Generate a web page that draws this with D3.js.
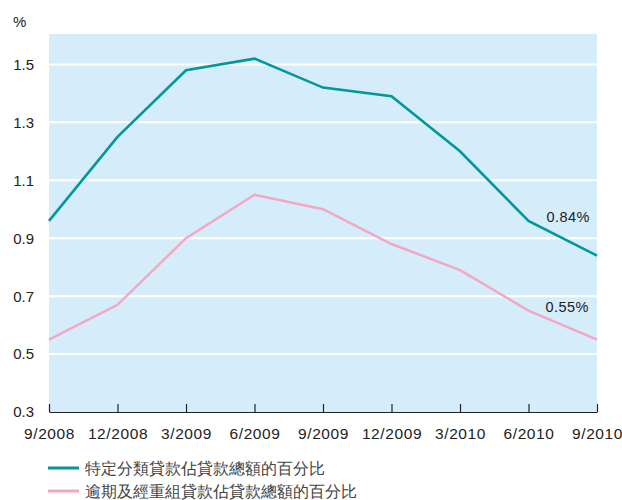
<!DOCTYPE html>
<html>
<head>
<meta charset="utf-8">
<script src="https://cdn.jsdelivr.net/npm/d3@7"></script>
<style>
  body { margin: 0; background: #fff; }
  text { font-family: "Liberation Sans", Arial, sans-serif; fill: #222; }
</style>
</head>
<body>
<div id="chart"></div>
<script>
// quarter-end dates
const categories = ["9/2008", "12/2008", "3/2009", "6/2009", "9/2009", "12/2009", "3/2010", "6/2010", "9/2010"]
// classified loans as % of total loans
const classified = [0.96, 1.25, 1.48, 1.52, 1.42, 1.39, 1.20, 0.96, 0.84]
// overdue and rescheduled loans as % of total loans
const overdue = [0.55, 0.67, 0.90, 1.05, 1.00, 0.88, 0.79, 0.65, 0.55]
const y_ticks = [0.3, 0.5, 0.7, 0.9, 1.1, 1.3, 1.5]
const series_names = ["特定分類貸款佔貸款總額的百分比", "逾期及經重組貸款佔貸款總額的百分比"]
const end_labels = ["0.84%", "0.55%"]

const width = 622, height = 500
const pad_left = 49, pad_right = 597, pad_top = 34, pad_bottom = 412

const svg = d3.select("#chart").append("svg")
  .attr("width", width)
  .attr("height", height)

const x = d3.scalePoint().domain(categories).range([pad_left, pad_right])
const y = d3.scaleLinear().domain([0.3, 1.605]).range([pad_bottom, pad_top])

// plot background
svg.append("rect")
  .attr("x", pad_left).attr("y", pad_top)
  .attr("width", pad_right - pad_left).attr("height", pad_bottom - pad_top)
  .attr("fill", "#d5edfa")

// white gridlines
svg.append("g")
  .selectAll("line")
  .data(y_ticks.slice(1))
  .join("line")
  .attr("x1", pad_left).attr("x2", pad_right)
  .attr("y1", d => y(d)).attr("y2", d => y(d))
  .attr("stroke", "#fff")
  .attr("stroke-width", 2)

// y tick labels
svg.append("g")
  .selectAll("text")
  .data(y_ticks)
  .join("text")
  .attr("x", 34)
  .attr("y", d => y(d))
  .attr("dy", "0.36em")
  .attr("text-anchor", "end")
  .attr("font-size", 15)
  .text(d => d3.format(".1f")(d))

svg.append("text")
  .attr("x", 13).attr("y", 27)
  .attr("font-size", 15)
  .text("%")

// x axis with ticks pointing up into the plot
const x_axis = d3.axisBottom(x).tickSize(-8).tickSizeOuter(0).tickPadding(16)
const xg = svg.append("g")
  .attr("transform", `translate(0,${pad_bottom})`)
  .call(x_axis)
xg.select(".domain").attr("stroke", "#222").attr("stroke-width", 1.2)
xg.selectAll(".tick line").attr("stroke", "#222").attr("stroke-width", 1.2)
xg.selectAll(".tick text")
  .attr("font-size", 15.5)
  .attr("font-family", "Liberation Sans, Arial, sans-serif")
  .attr("letter-spacing", "0.6px")
  .attr("fill", "#222")

const line = d3.line()
  .x((d, i) => x(categories[i]))
  .y(d => y(d))

const colors = ["#03979b", "#f4a7c3"]

svg.append("path")
  .datum(overdue)
  .attr("d", line)
  .attr("fill", "none")
  .attr("stroke", colors[1])
  .attr("stroke-width", 2.5)

svg.append("path")
  .datum(classified)
  .attr("d", line)
  .attr("fill", "none")
  .attr("stroke", colors[0])
  .attr("stroke-width", 2.6)

// end value labels
svg.append("text")
  .attr("x", 590).attr("y", 222)
  .attr("text-anchor", "end")
  .attr("font-size", 14.5)
  .attr("letter-spacing", "0.5px")
  .text(end_labels[0])
svg.append("text")
  .attr("x", 589).attr("y", 312)
  .attr("text-anchor", "end")
  .attr("font-size", 14.5)
  .attr("letter-spacing", "0.5px")
  .text(end_labels[1])

// legend
const legend = svg.append("g")
series_names.forEach((name, i) => {
  const ly = 468 + i * 23
  legend.append("line")
    .attr("x1", 48).attr("x2", 79)
    .attr("y1", ly).attr("y2", ly)
    .attr("stroke", colors[i])
    .attr("stroke-width", 3)
  legend.append("text")
    .attr("x", 85).attr("y", ly)
    .attr("dy", "0.36em")
    .attr("font-size", 16)
    .attr("font-family", "Noto Sans CJK TC, sans-serif")
    .style("fill", "#444")
    .text(name)
})
</script>
</body>
</html>
